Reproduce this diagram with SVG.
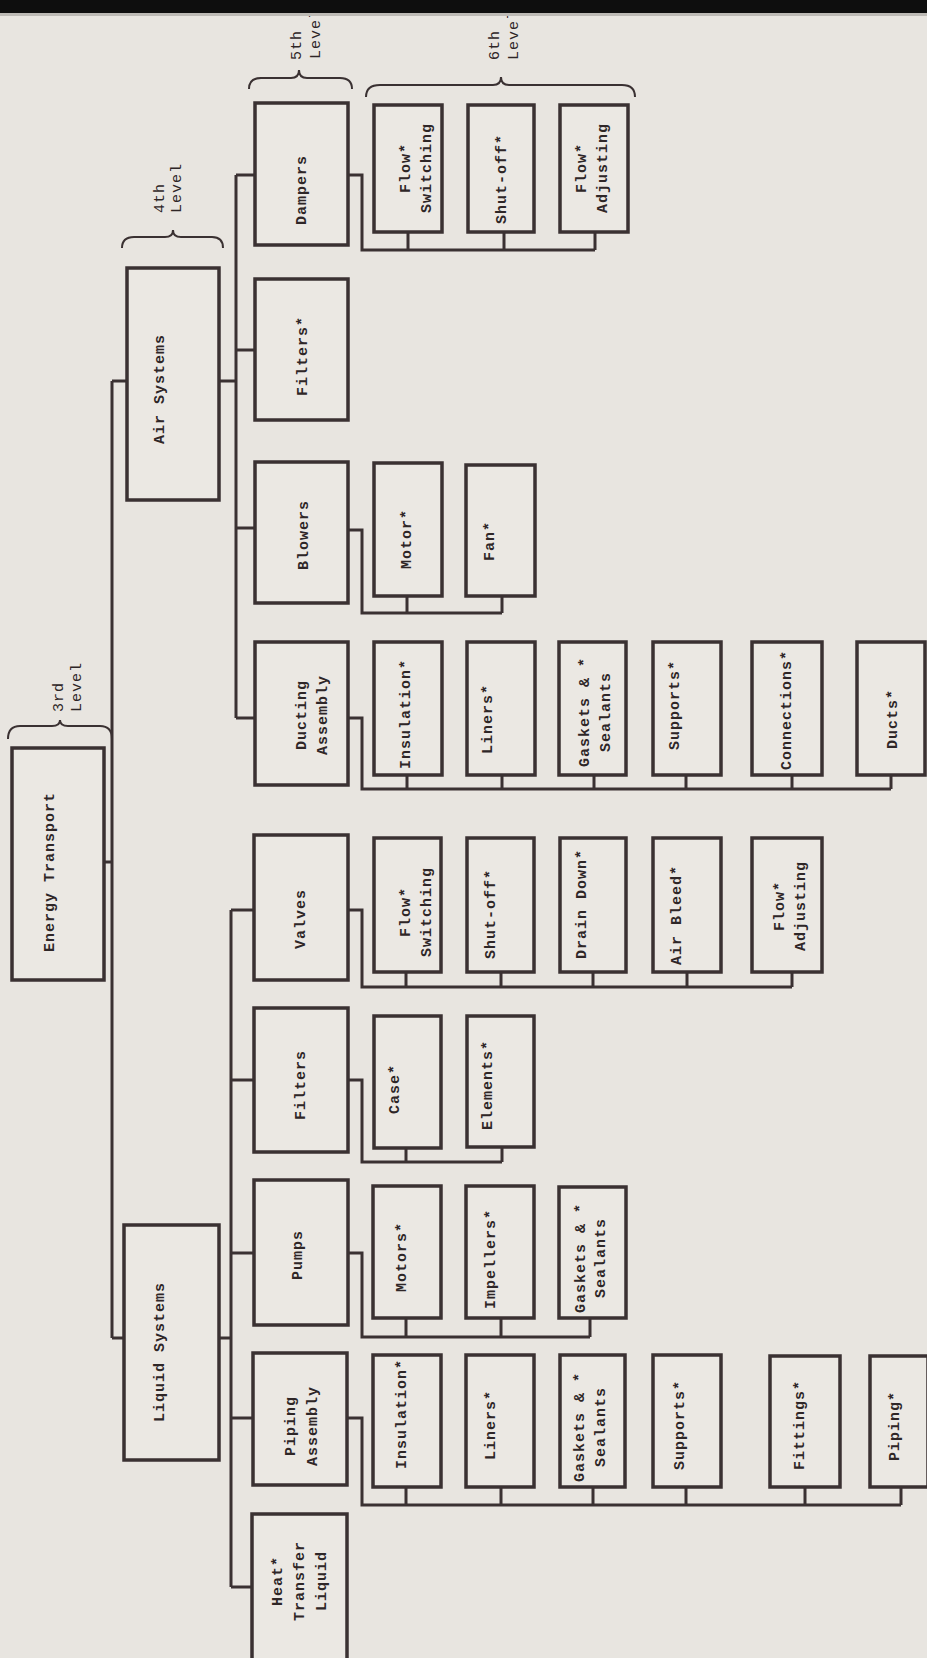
<svg xmlns="http://www.w3.org/2000/svg" width="927" height="1658" viewBox="0 0 927 1658">
<style>
.bg{fill:#e8e5e0}
.box{fill:#ebe8e3;stroke:#3a3132;stroke-width:3.5}
.con{fill:none;stroke:#3a3132;stroke-width:3;stroke-linejoin:miter}
.br{fill:none;stroke:#3a3132;stroke-width:2}
text{font-family:"Liberation Mono","Courier New",monospace;font-size:15px;font-weight:bold;letter-spacing:1px;fill:#2e2627;text-anchor:middle;dominant-baseline:central}
text.lv{text-anchor:start;font-weight:normal}
</style>
<rect class="bg" x="0" y="0" width="927" height="1658"/>

<g id="levels">
<path class="br" d="M8,739 Q8,726 20,726 L52,726 Q60,726 60,720 Q60,726 68,726 L100,726 Q112,726 112,739"/>
<text class="lv" transform="translate(59,712) rotate(-90)">3rd</text>
<text class="lv" transform="translate(77,712) rotate(-90)">Level</text>
<path class="br" d="M122,248 Q122,237 134,237 L165,237 Q173,237 173,230 Q173,237 181,237 L212,237 Q223,237 223,248"/>
<text class="lv" transform="translate(160,213) rotate(-90)">4th</text>
<text class="lv" transform="translate(177,213) rotate(-90)">Level</text>
<path class="br" d="M249,89 Q249,78 261,78 L291,78 Q299,78 299,70 Q299,78 307,78 L340,78 Q352,78 352,89"/>
<text class="lv" transform="translate(297,60) rotate(-90)">5th</text>
<text class="lv" transform="translate(316,59) rotate(-90)">Level</text>
<path class="br" d="M366,97 Q366,85 380,85 L493,85 Q501,85 501,77 Q501,85 509,85 L622,85 Q635,85 635,97"/>
<text class="lv" transform="translate(495,60) rotate(-90)">6th</text>
<text class="lv" transform="translate(514,60) rotate(-90)">Level</text>
</g>

<g id="connectors">
<path class="con" d="M112,381 L112,1338"/>
<path class="con" d="M112,381 L127,381"/>
<path class="con" d="M104,862 L112,862"/>
<path class="con" d="M112,1338 L124,1338"/>
<path class="con" d="M219,381 L236,381"/>
<path class="con" d="M236,175 L236,718"/>
<path class="con" d="M236,175 L255,175 M236,350 L255,350 M236,528 L255,528 M236,718 L255,718"/>
<path class="con" d="M219,1338 L231,1338"/>
<path class="con" d="M231,910 L231,1587"/>
<path class="con" d="M231,910 L254,910 M231,1080 L254,1080 M231,1253 L254,1253 M231,1418 L253,1418 M231,1587 L252,1587"/>
<path class="con" d="M348,175 L362,175 L362,250 L595,250 M408,250 L408,232 M504,250 L504,232 M595,250 L595,232"/>
<path class="con" d="M348,530 L362,530 L362,613 L502,613 M407,613 L407,596 M502,613 L502,596"/>
<path class="con" d="M348,718 L362,718 L362,789 L891,789 M407,789 L407,775 M502,789 L502,775 M594,789 L594,775 M686,789 L686,775 M792,789 L792,775 M891,789 L891,775"/>
<path class="con" d="M348,910 L362,910 L362,987 L792,987 M406,987 L406,972 M501,987 L501,972 M593,987 L593,972 M687,987 L687,972 M792,987 L792,972"/>
<path class="con" d="M348,1080 L362,1080 L362,1162 L502,1162 M406,1162 L406,1148 M502,1162 L502,1147"/>
<path class="con" d="M348,1253 L362,1253 L362,1337 L590,1337 M406,1337 L406,1318 M501,1337 L501,1318 M590,1337 L590,1318"/>
<path class="con" d="M347,1418 L362,1418 L362,1505 L901,1505 M406,1505 L406,1487 M501,1505 L501,1487 M593,1505 L593,1487 M686,1505 L686,1487 M805,1505 L805,1487 M901,1505 L901,1487"/>
</g>

<g id="energy-transport"><rect class="box" x="12" y="748" width="92" height="232"/><text transform="translate(50,872) rotate(-90)">Energy Transport</text></g>
<g id="air-systems"><rect class="box" x="127" y="268" width="92" height="232"/><text transform="translate(160,389) rotate(-90)">Air Systems</text></g>
<g id="liquid-systems"><rect class="box" x="124" y="1225" width="95" height="235"/><text transform="translate(160,1352) rotate(-90)">Liquid Systems</text></g>

<g id="dampers"><rect class="box" x="255" y="103" width="93" height="142"/><text transform="translate(302,190) rotate(-90)">Dampers</text></g>
<g id="air-filters"><rect class="box" x="255" y="279" width="93" height="141"/><text transform="translate(303,356) rotate(-90)">Filters*</text></g>
<g id="blowers"><rect class="box" x="255" y="462" width="93" height="141"/><text transform="translate(304,535) rotate(-90)">Blowers</text></g>
<g id="ducting-assembly"><rect class="box" x="255" y="642" width="93" height="143"/><text transform="translate(312,715) rotate(-90)"><tspan x="0" y="-10.5">Ducting</tspan><tspan x="0" y="10.5">Assembly</tspan></text></g>
<g id="valves"><rect class="box" x="254" y="835" width="94" height="145"/><text transform="translate(301.5,919) rotate(-90)">Valves</text></g>
<g id="liquid-filters"><rect class="box" x="254" y="1008" width="94" height="144"/><text transform="translate(301.5,1085) rotate(-90)">Filters</text></g>
<g id="pumps"><rect class="box" x="254" y="1180" width="94" height="145"/><text transform="translate(298.5,1255) rotate(-90)">Pumps</text></g>
<g id="piping-assembly"><rect class="box" x="253" y="1353" width="94" height="132"/><text transform="translate(301.5,1426) rotate(-90)"><tspan x="0" y="-11">Piping</tspan><tspan x="0" y="11">Assembly</tspan></text></g>
<g id="heat-transfer-liquid"><rect class="box" x="252" y="1514" width="95" height="160"/><text transform="translate(300,1581) rotate(-90)"><tspan x="0" y="-22">Heat*</tspan><tspan x="0" y="0">Transfer</tspan><tspan x="0" y="22">Liquid</tspan></text></g>

<g id="damper-flow-switching"><rect class="box" x="374" y="105" width="68" height="127"/><text transform="translate(416,168) rotate(-90)"><tspan x="0" y="-10.5">Flow*</tspan><tspan x="0" y="10.5">Switching</tspan></text></g>
<g id="damper-shut-off"><rect class="box" x="468" y="105" width="66" height="127"/><text transform="translate(502.5,179) rotate(-90)">Shut-off*</text></g>
<g id="damper-flow-adjusting"><rect class="box" x="560" y="105" width="68" height="127"/><text transform="translate(592.5,168) rotate(-90)"><tspan x="0" y="-10.5">Flow*</tspan><tspan x="0" y="10.5">Adjusting</tspan></text></g>

<g id="blower-motor"><rect class="box" x="374" y="463" width="68" height="133"/><text transform="translate(407,539) rotate(-90)">Motor*</text></g>
<g id="blower-fan"><rect class="box" x="466" y="465" width="69" height="131"/><text transform="translate(490,541) rotate(-90)">Fan*</text></g>

<g id="duct-insulation"><rect class="box" x="374" y="642" width="68" height="133"/><text transform="translate(406,714) rotate(-90)">Insulation*</text></g>
<g id="duct-liners"><rect class="box" x="467" y="642" width="68" height="133"/><text transform="translate(488,719) rotate(-90)">Liners*</text></g>
<g id="duct-gaskets"><rect class="box" x="559" y="642" width="67" height="133"/><text transform="translate(595.5,712) rotate(-90)"><tspan x="0" y="-10.5">Gaskets &amp; *</tspan><tspan x="0" y="10.5">Sealants</tspan></text></g>
<g id="duct-supports"><rect class="box" x="653" y="642" width="68" height="133"/><text transform="translate(675,705) rotate(-90)">Supports*</text></g>
<g id="duct-connections"><rect class="box" x="752" y="642" width="70" height="133"/><text transform="translate(787,710) rotate(-90)">Connections*</text></g>
<g id="ducts"><rect class="box" x="857" y="642" width="68" height="133"/><text transform="translate(893,719) rotate(-90)">Ducts*</text></g>

<g id="valve-flow-switching"><rect class="box" x="374" y="838" width="67" height="134"/><text transform="translate(416,912) rotate(-90)"><tspan x="0" y="-10.5">Flow*</tspan><tspan x="0" y="10.5">Switching</tspan></text></g>
<g id="valve-shut-off"><rect class="box" x="467" y="838" width="67" height="134"/><text transform="translate(491,914) rotate(-90)">Shut-off*</text></g>
<g id="valve-drain-down"><rect class="box" x="560" y="838" width="66" height="134"/><text transform="translate(582,904) rotate(-90)">Drain Down*</text></g>
<g id="valve-air-bleed"><rect class="box" x="653" y="838" width="68" height="134"/><text transform="translate(677,915) rotate(-90)">Air Bleed*</text></g>
<g id="valve-flow-adjusting"><rect class="box" x="752" y="838" width="70" height="134"/><text transform="translate(790.5,906) rotate(-90)"><tspan x="0" y="-10.5">Flow*</tspan><tspan x="0" y="10.5">Adjusting</tspan></text></g>

<g id="filter-case"><rect class="box" x="374" y="1016" width="67" height="132"/><text transform="translate(395,1089) rotate(-90)">Case*</text></g>
<g id="filter-elements"><rect class="box" x="467" y="1016" width="67" height="131"/><text transform="translate(488,1085) rotate(-90)">Elements*</text></g>

<g id="pump-motors"><rect class="box" x="373" y="1186" width="68" height="132"/><text transform="translate(402,1257) rotate(-90)">Motors*</text></g>
<g id="pump-impellers"><rect class="box" x="466" y="1186" width="68" height="132"/><text transform="translate(491,1259) rotate(-90)">Impellers*</text></g>
<g id="pump-gaskets"><rect class="box" x="559" y="1187" width="67" height="131"/><text transform="translate(591,1258) rotate(-90)"><tspan x="0" y="-10">Gaskets &amp; *</tspan><tspan x="0" y="10">Sealants</tspan></text></g>

<g id="pipe-insulation"><rect class="box" x="373" y="1355" width="68" height="132"/><text transform="translate(402,1414) rotate(-90)">Insulation*</text></g>
<g id="pipe-liners"><rect class="box" x="466" y="1355" width="68" height="132"/><text transform="translate(491,1425) rotate(-90)">Liners*</text></g>
<g id="pipe-gaskets"><rect class="box" x="560" y="1355" width="65" height="132"/><text transform="translate(590.5,1427) rotate(-90)"><tspan x="0" y="-10.5">Gaskets &amp; *</tspan><tspan x="0" y="10.5">Sealants</tspan></text></g>
<g id="pipe-supports"><rect class="box" x="653" y="1355" width="68" height="132"/><text transform="translate(680,1425) rotate(-90)">Supports*</text></g>
<g id="pipe-fittings"><rect class="box" x="770" y="1356" width="70" height="131"/><text transform="translate(800,1425) rotate(-90)">Fittings*</text></g>
<g id="piping"><rect class="box" x="870" y="1356" width="58" height="131"/><text transform="translate(895,1426) rotate(-90)">Piping*</text></g>

<rect x="0" y="0" width="927" height="13" fill="#0e0e0e"/>
<rect x="0" y="13" width="927" height="3" fill="#bdbab5"/>
</svg>
